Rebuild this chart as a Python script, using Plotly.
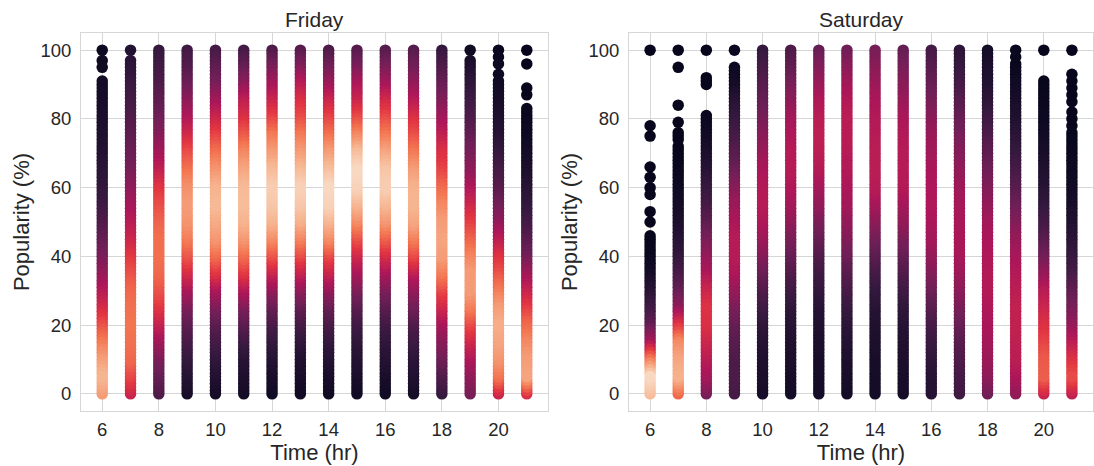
import numpy as np
import plotly.graph_objects as go

# ---------------- data ----------------
hours = list(range(6, 22))
popularity = list(range(0, 101))          # discrete popularity values (%)
levels = list(range(0, 101, 5))           # levels at which colour (density) was read

# highest popularity value of the continuous part of each column
fri_top = {6: 91, 7: 97, 8: 100, 9: 100, 10: 100, 11: 100, 12: 100, 13: 100,
           14: 100, 15: 100, 16: 100, 17: 100, 18: 100, 19: 97, 20: 91, 21: 83}
# isolated points above the continuous part
fri_extra = {6: [100, 97, 95], 7: [100], 19: [100], 20: [100, 98, 96, 93],
             21: [100, 96, 89, 87]}
# relative density (0..1) at levels 0,5,...,100
fri_density = {
    6:  [0.80, 0.86, 0.80, 0.72, 0.62, 0.52, 0.44, 0.36, 0.30, 0.25, 0.20, 0.16, 0.13, 0.11, 0.09, 0.08, 0.07, 0.06, 0.05, 0.04, 0.03],
    7:  [0.50, 0.60, 0.68, 0.70, 0.71, 0.70, 0.68, 0.63, 0.57, 0.50, 0.45, 0.40, 0.35, 0.30, 0.27, 0.24, 0.21, 0.18, 0.15, 0.12, 0.09],
    8:  [0.20, 0.25, 0.30, 0.38, 0.47, 0.56, 0.63, 0.68, 0.70, 0.70, 0.67, 0.62, 0.56, 0.47, 0.40, 0.33, 0.28, 0.24, 0.20, 0.17, 0.14],
    9:  [0.06, 0.09, 0.13, 0.18, 0.23, 0.30, 0.40, 0.52, 0.63, 0.72, 0.78, 0.80, 0.77, 0.70, 0.62, 0.52, 0.43, 0.35, 0.27, 0.21, 0.17],
    10: [0.05, 0.08, 0.12, 0.17, 0.22, 0.30, 0.40, 0.55, 0.68, 0.78, 0.83, 0.87, 0.85, 0.78, 0.70, 0.60, 0.50, 0.40, 0.30, 0.24, 0.18],
    11: [0.05, 0.07, 0.10, 0.15, 0.22, 0.30, 0.42, 0.56, 0.68, 0.78, 0.85, 0.88, 0.87, 0.82, 0.75, 0.65, 0.55, 0.47, 0.35, 0.25, 0.18],
    12: [0.04, 0.06, 0.09, 0.13, 0.18, 0.25, 0.35, 0.48, 0.62, 0.75, 0.85, 0.90, 0.92, 0.87, 0.80, 0.72, 0.60, 0.50, 0.40, 0.30, 0.20],
    13: [0.04, 0.06, 0.08, 0.12, 0.17, 0.24, 0.34, 0.47, 0.60, 0.73, 0.84, 0.90, 0.93, 0.87, 0.80, 0.72, 0.62, 0.55, 0.45, 0.32, 0.22],
    14: [0.04, 0.06, 0.09, 0.13, 0.18, 0.25, 0.35, 0.48, 0.60, 0.75, 0.85, 0.93, 0.95, 0.88, 0.80, 0.70, 0.60, 0.50, 0.38, 0.28, 0.20],
    15: [0.04, 0.06, 0.09, 0.12, 0.16, 0.22, 0.30, 0.40, 0.50, 0.62, 0.75, 0.85, 0.93, 0.95, 0.88, 0.75, 0.62, 0.50, 0.42, 0.30, 0.22],
    16: [0.04, 0.06, 0.09, 0.12, 0.16, 0.22, 0.30, 0.40, 0.52, 0.65, 0.78, 0.86, 0.92, 0.90, 0.82, 0.72, 0.62, 0.52, 0.40, 0.30, 0.22],
    17: [0.05, 0.08, 0.11, 0.15, 0.20, 0.27, 0.35, 0.45, 0.60, 0.72, 0.82, 0.86, 0.85, 0.80, 0.72, 0.63, 0.55, 0.45, 0.36, 0.28, 0.22],
    18: [0.14, 0.20, 0.27, 0.33, 0.40, 0.50, 0.60, 0.72, 0.80, 0.82, 0.80, 0.75, 0.68, 0.60, 0.55, 0.47, 0.40, 0.32, 0.26, 0.20, 0.14],
    19: [0.30, 0.35, 0.42, 0.50, 0.60, 0.72, 0.80, 0.80, 0.74, 0.66, 0.58, 0.50, 0.42, 0.35, 0.30, 0.25, 0.20, 0.16, 0.12, 0.08, 0.04],
    20: [0.50, 0.70, 0.78, 0.82, 0.84, 0.80, 0.72, 0.63, 0.55, 0.45, 0.35, 0.28, 0.22, 0.18, 0.14, 0.10, 0.08, 0.06, 0.04, 0.03, 0.02],
    21: [0.55, 0.82, 0.80, 0.75, 0.68, 0.58, 0.48, 0.38, 0.28, 0.22, 0.17, 0.13, 0.10, 0.07, 0.05, 0.03, 0.02, 0.02, 0.01, 0.01, 0.01],
}

sat_top = {6: 46, 7: 72, 8: 81, 9: 95, 10: 100, 11: 100, 12: 100, 13: 100,
           14: 100, 15: 100, 16: 100, 17: 100, 18: 100, 19: 96, 20: 91, 21: 76}
sat_extra = {6: [100, 78, 75, 66, 63, 60, 58, 53, 50],
             7: [100, 95, 84, 79, 76, 75, 74],
             8: [100, 92, 91, 90], 9: [100], 19: [100, 98], 20: [100],
             21: [100, 93, 91, 89, 87, 85, 82, 80, 78]}
sat_density = {
    6:  [0.88, 0.95, 0.70, 0.40, 0.24, 0.16, 0.10, 0.05, 0.02, 0.01, 0.01, 0.01, 0.01, 0.01, 0.01, 0.01, 0.01, 0.01, 0.01, 0.01, 0.01],
    7:  [0.68, 0.85, 0.82, 0.75, 0.55, 0.35, 0.25, 0.18, 0.13, 0.10, 0.07, 0.05, 0.03, 0.02, 0.01, 0.01, 0.01, 0.01, 0.01, 0.01, 0.01],
    8:  [0.30, 0.40, 0.45, 0.50, 0.55, 0.56, 0.50, 0.42, 0.36, 0.30, 0.23, 0.18, 0.14, 0.10, 0.07, 0.04, 0.02, 0.01, 0.01, 0.01, 0.01],
    9:  [0.18, 0.20, 0.20, 0.22, 0.25, 0.30, 0.36, 0.42, 0.45, 0.45, 0.42, 0.38, 0.33, 0.27, 0.22, 0.18, 0.14, 0.10, 0.05, 0.03, 0.02],
    10: [0.06, 0.07, 0.08, 0.10, 0.12, 0.16, 0.20, 0.26, 0.32, 0.38, 0.43, 0.45, 0.44, 0.42, 0.38, 0.34, 0.30, 0.26, 0.22, 0.18, 0.14],
    11: [0.05, 0.06, 0.07, 0.08, 0.10, 0.12, 0.16, 0.20, 0.25, 0.30, 0.35, 0.40, 0.43, 0.45, 0.45, 0.43, 0.40, 0.35, 0.30, 0.24, 0.20],
    12: [0.05, 0.05, 0.06, 0.07, 0.08, 0.10, 0.13, 0.16, 0.20, 0.25, 0.30, 0.36, 0.40, 0.44, 0.46, 0.47, 0.46, 0.43, 0.38, 0.32, 0.26],
    13: [0.05, 0.06, 0.07, 0.09, 0.11, 0.14, 0.18, 0.22, 0.27, 0.32, 0.36, 0.40, 0.42, 0.44, 0.45, 0.46, 0.46, 0.44, 0.40, 0.34, 0.28],
    14: [0.05, 0.05, 0.06, 0.07, 0.08, 0.10, 0.13, 0.17, 0.22, 0.28, 0.34, 0.40, 0.45, 0.46, 0.46, 0.45, 0.44, 0.42, 0.38, 0.34, 0.30],
    15: [0.06, 0.06, 0.07, 0.08, 0.10, 0.12, 0.16, 0.20, 0.25, 0.30, 0.36, 0.40, 0.44, 0.45, 0.45, 0.44, 0.42, 0.38, 0.34, 0.30, 0.26],
    16: [0.10, 0.10, 0.12, 0.15, 0.18, 0.22, 0.27, 0.32, 0.36, 0.40, 0.42, 0.43, 0.43, 0.42, 0.40, 0.38, 0.34, 0.30, 0.26, 0.22, 0.18],
    17: [0.17, 0.18, 0.20, 0.22, 0.26, 0.30, 0.34, 0.38, 0.41, 0.42, 0.42, 0.41, 0.39, 0.36, 0.33, 0.30, 0.26, 0.22, 0.18, 0.14, 0.12],
    18: [0.28, 0.35, 0.38, 0.40, 0.42, 0.43, 0.44, 0.44, 0.43, 0.42, 0.40, 0.36, 0.32, 0.28, 0.24, 0.20, 0.16, 0.12, 0.09, 0.07, 0.05],
    19: [0.36, 0.42, 0.46, 0.47, 0.48, 0.48, 0.46, 0.44, 0.41, 0.37, 0.32, 0.27, 0.22, 0.18, 0.14, 0.11, 0.08, 0.06, 0.04, 0.02, 0.02],
    20: [0.50, 0.66, 0.65, 0.60, 0.55, 0.50, 0.45, 0.36, 0.28, 0.22, 0.17, 0.13, 0.10, 0.08, 0.06, 0.04, 0.03, 0.02, 0.01, 0.01, 0.01],
    21: [0.48, 0.62, 0.55, 0.45, 0.36, 0.30, 0.24, 0.18, 0.14, 0.11, 0.08, 0.06, 0.04, 0.03, 0.02, 0.01, 0.01, 0.01, 0.01, 0.01, 0.01],
}

titles = ["Friday", "Saturday"]
x_label = "Time (hr)"
y_label = "Popularity (%)"
x_ticks = [6, 8, 10, 12, 14, 16, 18, 20]
y_ticks = [0, 20, 40, 60, 80, 100]

# seaborn "rocket" colormap
rocket = [[0.0, "#03051a"], [1 / 7, "#35193e"], [2 / 7, "#701f57"], [3 / 7, "#ad1759"],
          [4 / 7, "#e13342"], [5 / 7, "#f37651"], [6 / 7, "#f6b48f"], [1.0, "#faebdd"]]


def build_points(top, extra, density):
    pts = []
    for h in hours:
        ys = [p for p in popularity if p <= top[h]] + extra.get(h, [])
        for y in ys:
            c = float(np.interp(y, levels, density[h]))  # colour along the read profile
            pts.append((c, h, y))
    pts.sort()  # denser points drawn on top
    xs = [p[1] for p in pts]
    ys = [p[2] for p in pts]
    cs = [p[0] for p in pts]
    return xs, ys, cs


fig = go.Figure()
panels = [(fri_top, fri_extra, fri_density), (sat_top, sat_extra, sat_density)]
for i, (top, extra, dens) in enumerate(panels):
    xs, ys, cs = build_points(top, extra, dens)
    fig.add_trace(go.Scatter(
        x=xs, y=ys, mode="markers",
        marker=dict(size=11.5, color=cs, colorscale=rocket, cmin=0, cmax=1,
                    line=dict(width=0)),
        xaxis="x" if i == 0 else "x2", yaxis="y" if i == 0 else "y2",
        hoverinfo="skip", showlegend=False,
    ))

W, H = 1094, 466
font_family = "Liberation Sans, Arial, sans-serif"
txt = "#262626"
grid = "#d6d6d6"

xdoms = [[81 / W, 548 / W], [629 / W, 1093 / W]]
ydom = [1 - 411 / H, 1 - 33 / H]

axis_common = dict(showgrid=True, gridcolor=grid, gridwidth=1, zeroline=False,
                   showline=True, linecolor=grid, linewidth=1, mirror=True,
                   ticks="", tickfont=dict(size=18.5, color=txt, family=font_family),
                   title_font=dict(size=22, color=txt, family=font_family))

layout = dict(
    width=W, height=H, margin=dict(l=0, r=0, t=0, b=0),
    paper_bgcolor="white", plot_bgcolor="white",
    font=dict(family=font_family, color=txt),
    xaxis=dict(domain=xdoms[0], range=[5.25, 21.75], tickvals=x_ticks,
               title=dict(text=x_label, standoff=4), anchor="y",
               ticklabelstandoff=2, **axis_common),
    yaxis=dict(domain=ydom, range=[-5, 105], tickvals=y_ticks,
               title=dict(text=y_label, standoff=4), anchor="x",
               ticklabelstandoff=5, **axis_common),
    xaxis2=dict(domain=xdoms[1], range=[5.25, 21.75], tickvals=x_ticks,
                title=dict(text=x_label, standoff=4), anchor="y2",
                ticklabelstandoff=2, **axis_common),
    yaxis2=dict(domain=ydom, range=[-5, 105], tickvals=y_ticks,
                title=dict(text=y_label, standoff=4), anchor="x2",
                ticklabelstandoff=5, **axis_common),
)
fig.update_layout(**layout)

for i, t in enumerate(titles):
    fig.add_annotation(text=t, xref="paper", yref="paper",
                       x=(xdoms[i][0] + xdoms[i][1]) / 2, y=1 - 19 / H,
                       xanchor="center", yanchor="middle", showarrow=False,
                       font=dict(size=21, color=txt, family=font_family))

fig.write_html("out.html")
